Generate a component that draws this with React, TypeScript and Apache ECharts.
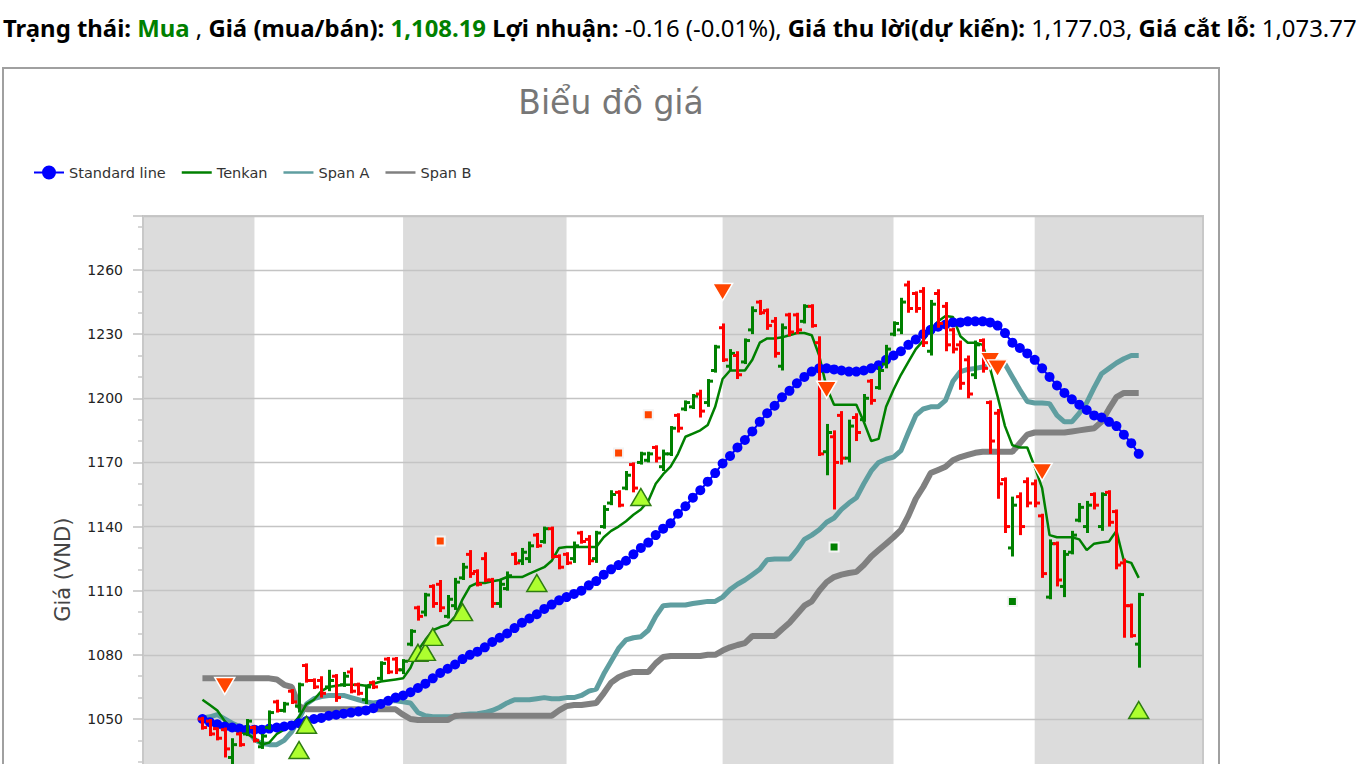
import React, { useEffect, useRef } from "react";
import * as echarts from "echarts";

// ---- Data ----
const opens = [1050,1049,1045.5,1045,1032,1043,1043,1046,1037,1046, 1058,1054,1063,1056,1075,1068,1068,1065,1070,1066, 1072,1066,1059,1067,1069,1078,1078,1073,1085,1102, 1100,1112,1113,1098,1103,1116,1127,1119,1125,1115, 1104,1111,1127,1124,1125,1136,1133,1139,1126,1127, 1125,1137,1134,1125,1140,1151,1156,1158,1169,1170, 1171,1177,1168,1174,1192,1195,1196,1202,1198,1213, 1233,1215,1220,1217,1232,1245,1241,1236,1215,1239, 1239,1236,1243,1226,1175,1182,1192,1172,1191,1190, 1208,1205,1216,1230,1232,1253,1249,1250,1222,1249, 1243,1232,1225,1218,1211,1227,1198,1193,1162,1130, 1154,1161,1160,1145,1107,1132,1112,1128,1143,1140, 1155,1140,1156,1147,1123,1103,1085];
const highs = [1051,1050,1046,1046,1041,1044,1050,1047,1043,1054, 1059,1058,1064,1067,1076,1069,1070,1073,1071,1072, 1074,1067,1066,1068,1077,1079,1079,1078,1092,1103, 1109,1113,1115,1108,1116,1123,1129,1120,1128,1116, 1115,1119,1128,1130,1133,1137,1140,1140,1127,1128, 1133,1138,1136,1138,1150,1157,1157,1166,1170,1175, 1175,1178,1176,1187,1193,1199,1202,1204,1209,1225, 1235,1223,1222,1228,1243,1246,1242,1238,1235,1240, 1240,1244,1244,1229,1188,1185,1194,1190,1193,1202, 1209,1215,1225,1236,1247,1255,1250,1252,1246,1251, 1245,1233,1227,1220,1227,1228,1199,1195,1163,1154, 1156,1163,1162,1146,1134,1133,1129,1138,1151,1152, 1156,1156,1157,1148,1125,1104,1109];
const lows = [1045,1042,1040,1032,1027,1037,1042,1039,1036,1045, 1053,1053,1057,1053,1067,1064,1060,1063,1058,1065, 1062,1061,1057,1064,1068,1071,1071,1071,1084,1096, 1098,1102,1100,1097,1101,1115,1116,1112,1114,1102, 1102,1110,1122,1122,1123,1130,1132,1125,1120,1122, 1123,1132,1122,1123,1139,1150,1149,1157,1156,1169, 1170,1170,1166,1173,1184,1194,1195,1191,1196,1212, 1217,1213,1209,1216,1230,1239,1232,1219,1213,1229, 1230,1235,1233,1173,1164,1148,1169,1170,1180,1189, 1197,1204,1214,1229,1230,1240,1240,1224,1220,1233, 1222,1221,1204,1200,1209,1212,1174,1153,1137,1126, 1136,1149,1149,1116,1106,1112,1107,1127,1142,1137, 1148,1138,1140,1120,1088,1088,1074];
const closes = [1046,1043,1041,1036,1038,1038,1049,1040,1042,1053, 1054,1057,1058,1066,1068,1065,1062,1068,1060,1070, 1063,1062,1065,1065,1076,1072,1073,1077,1091,1098, 1108,1104,1102,1106,1114,1121,1118,1113,1115,1104, 1113,1117,1123,1128,1131,1131,1139,1126,1121,1123, 1131,1133,1124,1137,1148,1155,1150,1164,1158,1174, 1174,1172,1174,1186,1186,1198,1201,1194,1208,1224, 1218,1221,1211,1227,1241,1240,1234,1221,1233,1231, 1232,1243,1234,1174,1184,1170,1172,1187,1184,1200, 1199,1213,1223,1235,1245,1242,1242,1226,1244,1235, 1225,1223,1207,1202,1225,1214,1180,1160,1140,1150, 1140,1151,1151,1118,1132,1115,1127,1136,1149,1150, 1150,1155,1142,1122,1103,1089,1108.19];

const standardLine = [1050,1048.5,1047.5,1046.5,1046,1045.5,1045,1045,1045,1045.5, 1046,1046.5,1047,1048,1049,1050,1050.5,1051.5,1052,1052.5, 1053,1053.5,1054,1055,1057,1058.5,1060,1061,1062.5,1064.5, 1066.5,1069,1071.5,1073.5,1075.5,1078,1080,1081.5,1083.5,1086, 1088,1090,1092.5,1095,1097,1099,1101.5,1103.5,1105.5,1107, 1108.5,1110,1112.5,1114.5,1117.5,1120,1122,1124,1127,1130, 1132.5,1136,1139,1141.5,1146,1149.5,1153.5,1157,1161,1165, 1169.5,1173,1177,1180.5,1184.5,1189,1193,1196.5,1200.5,1203.5, 1207,1210,1212.5,1214,1214,1213.5,1213,1212.5,1212.5,1213, 1214,1215.5,1218,1220,1222,1225,1227.5,1230,1232,1233.5, 1234.5,1235.5,1235.5,1236,1236,1236,1235.5,1234,1230.5,1226, 1223.5,1221,1218,1214,1210,1206,1202.5,1199.5,1197,1194.5, 1192,1191,1189,1187,1183,1179,1174];
const tenkan = [1059,1056.5,1054,1049,1045,1044,1043,1041,1038,1039, 1043,1045,1047,1051,1057,1059,1063,1065,1065.5,1066, 1066,1066,1065.5,1066.5,1067.5,1068,1068.5,1069,1074,1082, 1087,1091.5,1093,1094,1098,1106,1112,1113.6,1113.6,1114.4, 1115,1116.4,1116.4,1116.4,1118,1119.5,1121,1124,1130,1130.4, 1130.4,1130.4,1130.4,1130.4,1135,1138,1140,1142.5,1145.5,1148, 1152,1160,1164.5,1168,1174,1182,1183.5,1185,1187.5,1196, 1209,1213,1213,1213,1218,1226,1228,1228,1228.5,1229.5, 1230.5,1230.5,1229.5,1220,1205,1197,1197,1197,1197,1189, 1180,1181,1196,1204,1211,1217,1223,1227,1232,1236, 1238.5,1238,1229,1226,1226,1225,1214,1201,1187,1178, 1177,1177,1168,1158,1136,1135,1135,1135,1134,1129, 1132,1132.5,1133,1138,1124,1123,1116];
const spanA = [1050.5,1051,1052,1050,1048,1046.5,1045,1040.5,1038.5,1038, 1038,1040,1044,1050,1057,1059.5,1060.5,1061,1061,1061, 1060,1059,1058,1057.5,1058,1058.5,1058.5,1058,1057.5,1053, 1051.5,1051,1051,1051,1051,1052,1052.3,1052.5,1053,1054, 1055.5,1057.5,1059,1059,1059,1059.5,1060,1059.5,1059.5,1060, 1060,1061,1063,1064,1071,1077,1083,1087,1088,1088.5, 1091.5,1098,1103,1103.3,1103.3,1103.3,1104,1104.5,1105,1105, 1107,1110.5,1113,1115,1117.5,1120,1124.5,1124.8,1124.8,1124.8, 1129,1134,1136,1138.5,1142,1144,1148,1151,1153.5,1160, 1166,1170,1171.5,1172.5,1175.5,1184,1192,1195,1196,1196, 1199,1208,1212.5,1213.5,1214,1214.6,1215.5,1217,1216,1210, 1204,1198.5,1197.8,1197.8,1197.5,1192,1189,1189,1193,1198, 1205,1211.5,1214,1216.5,1218.5,1220,1220];
const spanB = [1069,1069,1069,1069,1069,1069,1069,1069,1069,1069, 1068.5,1066,1065,1056,1054.5,1054.5,1054.5,1054.5,1054.5,1054.5, 1054.5,1054.5,1054.5,1054.5,1054.5,1054.5,1054.5,1052,1050,1049.5, 1049.5,1049.5,1049.5,1049.5,1051.5,1051.5,1051.5,1051.5,1051.5,1051.5, 1051.5,1051.5,1051.5,1051.5,1051.5,1051.5,1051.5,1051.5,1054,1056, 1056.5,1056.5,1057,1057.5,1062,1067,1069.5,1071,1072,1072, 1072,1076,1079,1079.5,1079.5,1079.5,1079.5,1079.5,1080,1080, 1082,1083.5,1084.6,1085.5,1088.8,1088.8,1088.8,1088.8,1092,1095, 1099,1103,1105,1110,1114,1116.4,1117.5,1118.3,1118.8,1122, 1126,1129,1132,1135,1138.4,1145,1153,1158.5,1165,1166.5, 1168,1171,1172.5,1173.5,1174.5,1175,1175,1175,1175,1175, 1179,1183,1184,1184,1184,1184,1184,1184.5,1185,1185.5, 1186,1189,1195,1200.5,1202.5,1202.5,1202.5];

const buyIdx = [13, 14, 29, 30, 31, 35, 45, 59, 126];
const buyVal = [1035.5, 1047.3, 1080.9, 1081.4, 1088.4, 1100, 1113.6, 1153.8, 1054.2];
const sellIdx = [3, 70, 84, 106, 107, 113];
const sellVal = [1065.4, 1249.7, 1204, 1217.5, 1214, 1165.5];
const orangeSqIdx = [32, 56, 60];
const orangeSqVal = [1133.3, 1174.4, 1192.3];
const greenSqIdx = [85, 109];
const greenSqVal = [1130.4, 1105];

// month starts (bar index) for the alternating background bands
const monthStarts = [7, 27, 49, 70, 93, 112];
const yTicks = [1050, 1080, 1110, 1140, 1170, 1200, 1230, 1260];

const X_MIN = -8;
const X_MAX = 134.65;

const FONT = "DejaVu Sans";
const LINE_ICON = "path://M0,0H30V2.5H0Z";
const DOT_LINE_ICON = "path://M0,6H30V8H0Z M15,0A7,7 0 1,1 15,14A7,7 0 1,1 15,0Z";

function pairs(vals: number[]) {
  return vals.map((v, i) => [i, v]);
}

function buildOption() {
  const ohlc = opens.map((o, i) => [i, o, highs[i], lows[i], closes[i]]);
  const edges = [X_MIN, ...monthStarts, X_MAX];
  const bands: any[] = [];
  for (let k = 0; k + 1 < edges.length; k += 2) {
    bands.push([{ xAxis: edges[k] }, { xAxis: edges[k + 1] }]);
  }
  return {
    animation: false,
    textStyle: { fontFamily: FONT },
    title: {
      text: "Biểu đồ giá",
      left: "center",
      top: 12,
      textStyle: { fontFamily: FONT, fontSize: 33, fontWeight: "normal", color: "#777777" },
    },
    legend: {
      left: 30,
      top: 96,
      padding: 0,
      itemWidth: 30,
      itemHeight: 14,
      itemGap: 16,
      textStyle: { fontFamily: FONT, fontSize: 14.5, color: "#333" },
      data: [
        { name: "Standard line", icon: DOT_LINE_ICON },
        { name: "Tenkan", icon: LINE_ICON },
        { name: "Span A", icon: LINE_ICON },
        { name: "Span B", icon: LINE_ICON },
      ],
    },
    grid: {
      left: 139,
      top: 147,
      width: 1060,
      height: 695.4,
      show: true,
      z: 2,
      borderColor: "#c8c8c8",
      borderWidth: 2,
      backgroundColor: "transparent",
    },
    xAxis: {
      type: "value",
      min: X_MIN,
      max: X_MAX,
      show: false,
    },
    yAxis: {
      type: "value",
      min: 960,
      max: 1285.26,
      interval: 30,
      z: 2,
      name: "Giá (VND)",
      nameLocation: "middle",
      nameGap: 70,
      nameTextStyle: { fontFamily: FONT, fontSize: 21, color: "#444", padding: [0, 12, 0, 0] },
      axisLine: { show: true, onZero: false, lineStyle: { color: "#c8c8c8", width: 2 } },
      axisTick: { show: true, length: 10, lineStyle: { color: "#c0c0c0", width: 1.5 } },
      minorTick: { show: true, splitNumber: 3, length: 5, lineStyle: { color: "#c8c8c8", width: 1.5 } },
      splitLine: { show: true, lineStyle: { color: "#c4c4c4", width: 1.3 } },
      axisLabel: {
        margin: 20,
        fontFamily: FONT,
        fontSize: 14,
        color: "#222",
        formatter: (v: number) => (yTicks.indexOf(v) >= 0 ? String(v) : ""),
      },
    },
    series: [
      {
        name: "Span A",
        type: "line",
        data: pairs(spanA),
        symbol: "none",
        z: 3,
        lineStyle: { color: "#5f9ea0", width: 5 },
        itemStyle: { color: "#5f9ea0" },
        markArea: { silent: true, itemStyle: { color: "#dcdcdc" }, data: bands },
      },
      {
        name: "Span B",
        type: "line",
        data: pairs(spanB),
        symbol: "none",
        z: 3,
        lineStyle: { color: "#808080", width: 6 },
        itemStyle: { color: "#808080" },
      },
      {
        name: "Tenkan",
        type: "line",
        data: pairs(tenkan),
        symbol: "none",
        z: 4,
        lineStyle: { color: "#008000", width: 2.5 },
        itemStyle: { color: "#008000" },
      },
      {
        name: "Standard line",
        type: "line",
        data: pairs(standardLine),
        symbol: "circle",
        symbolSize: 10,
        showSymbol: true,
        z: 5,
        lineStyle: { color: "#0000ff", width: 2 },
        itemStyle: { color: "#0000ff" },
      },
      {
        name: "OHLC",
        type: "custom",
        z: 6,
        data: ohlc,
        encode: { x: 0, y: [1, 2, 3, 4] },
        renderItem: (params: any, api: any) => {
          const i = api.value(0);
          const o = api.value(1);
          const h = api.value(2);
          const l = api.value(3);
          const c = api.value(4);
          const pH = api.coord([i, h]);
          const pL = api.coord([i, l]);
          const pO = api.coord([i, o]);
          const pC = api.coord([i, c]);
          const color = c >= o ? "#008000" : "#ff0000";
          const x = Math.round(pH[0]) + 0.5;
          const st = { stroke: color, lineWidth: 3 };
          return {
            type: "group",
            children: [
              { type: "line", shape: { x1: x, y1: pH[1], x2: x, y2: pL[1] }, style: st },
              { type: "line", shape: { x1: x - 4.5, y1: pO[1], x2: x, y2: pO[1] }, style: st },
              { type: "line", shape: { x1: x, y1: pC[1], x2: x + 4.5, y2: pC[1] }, style: st },
            ],
          };
        },
      },
      {
        name: "Buy",
        type: "scatter",
        z: 8,
        symbol: "triangle",
        symbolSize: [20, 17],
        data: buyIdx.map((x, k) => [x, buyVal[k]]),
        itemStyle: { color: "#adff2f", borderColor: "#2e7d12", borderWidth: 1.5, opacity: 1 },
      },
      {
        name: "Sell",
        type: "scatter",
        z: 8,
        symbol: "triangle",
        symbolRotate: 180,
        symbolSize: [20, 17],
        data: sellIdx.map((x, k) => [x, sellVal[k]]),
        itemStyle: { color: "#ff4500", borderColor: "#ffffff", borderWidth: 1.5, opacity: 1 },
      },
      {
        name: "SignalUp",
        type: "scatter",
        z: 7,
        symbol: "rect",
        symbolSize: 9,
        data: orangeSqIdx.map((x, k) => [x, orangeSqVal[k]]),
        itemStyle: { color: "#ff4500", borderColor: "#f4f4f4", borderWidth: 2, opacity: 1 },
      },
      {
        name: "SignalDown",
        type: "scatter",
        z: 7,
        symbol: "rect",
        symbolSize: 9,
        data: greenSqIdx.map((x, k) => [x, greenSqVal[k]]),
        itemStyle: { color: "#008000", borderColor: "#f4f4f4", borderWidth: 2, opacity: 1 },
      },
    ],
  };
}

export default function App() {
  const ref = useRef<HTMLDivElement>(null);
  useEffect(() => {
    document.body.style.margin = "0";
    const chart = echarts.init(ref.current as HTMLDivElement, null, { renderer: "svg" });
    chart.setOption(buildOption() as any);
    return () => chart.dispose();
  }, []);
  const green = { color: "#008000" };
  return (
    <div
      style={{
        position: "fixed",
        left: 0,
        top: 0,
        width: 1370,
        height: 764,
        overflow: "hidden",
        background: "#fff",
      }}
    >
      <div
        style={{
          position: "absolute",
          left: 3,
          top: 11,
          whiteSpace: "nowrap",
          fontFamily: '"Noto Sans", sans-serif',
          fontSize: 23.9,
          lineHeight: "34px",
          color: "#000",
        }}
      >
        <b>Trạng thái: </b>
        <b style={green}>Mua</b> , <b>Giá (mua/bán): </b>
        <b style={green}>1,108.19</b> <b>Lợi nhuận:</b> -0.16 (-0.01%), <b>Giá thu lời(dự kiến):</b> 1,177.03,{" "}
        <b>Giá cắt lỗ:</b> 1,073.77
      </div>
      <div
        style={{
          position: "absolute",
          left: 2,
          top: 67,
          width: 1214,
          height: 1000,
          border: "2px solid #a0a0a0",
        }}
      >
        <div ref={ref} style={{ width: 1214, height: 1000 }} />
      </div>
    </div>
  );
}
